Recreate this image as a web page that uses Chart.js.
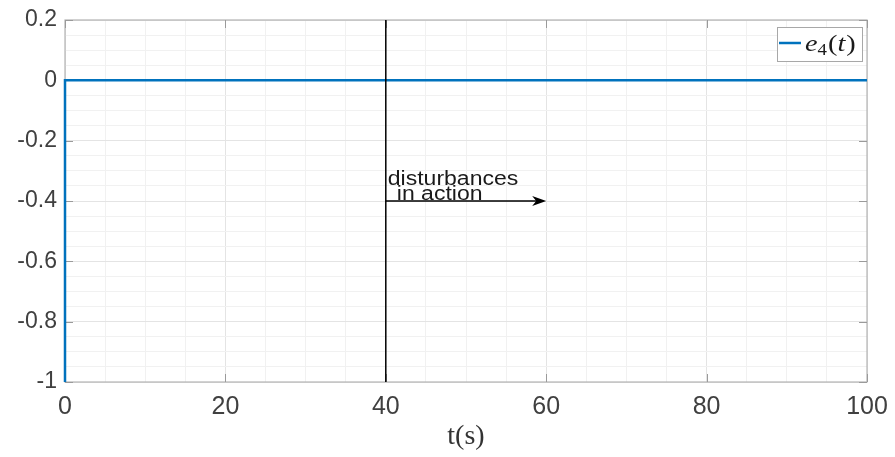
<!DOCTYPE html>
<html>
<head>
<meta charset="utf-8">
<script src="https://cdn.jsdelivr.net/npm/chart.js@4/dist/chart.umd.min.js"></script>
<style>
  html, body { margin: 0; padding: 0; background: #fff; }
  #wrap { width: 895px; height: 457px; }
</style>
</head>
<body>
<div id="wrap"><canvas id="c" width="895" height="457"></canvas></div>
<script>
// Tracking error e4(t): starts at -1 and settles to 0 immediately
const tValues = [0, 0, 100];
const e4Values = [-1, 0, 0];

// Labelled ticks
const xTickLabels = [0, 20, 40, 60, 80, 100];
const yTickLabels = [0.2, 0, -0.2, -0.4, -0.6, -0.8, -1];

// Disturbance marker
const disturbanceTime = 40;
const arrowEndTime = 60;
const arrowLevel = -0.4;
const noteLines = ['disturbances', 'in action'];

const points = tValues.map((t, i) => ({ x: t, y: e4Values[i] }));

const isLabelled = (v, list) => list.some(l => Math.abs(l - v) < 1e-6);
const fmtY = v => {
  const r = Math.round(v * 10) / 10;
  return r === 0 ? '0' : String(r);
};

const tickColor = '#404040';
const boxColor = '#b4b4b4';
const sans = '"Liberation Sans", Arial, sans-serif';
const serif = '"Liberation Serif", "DejaVu Serif", serif';

// text drawn slightly widened horizontally
function wideText(ctx, text, x, y, sx) {
  ctx.save();
  ctx.translate(x, y);
  ctx.scale(sx, 1);
  ctx.fillText(text, 0, 0);
  const w = ctx.measureText(text).width * sx;
  ctx.restore();
  return w;
}

const overlay = {
  id: 'overlay',
  beforeDatasetsDraw(chart) {
    const { ctx, chartArea: a, scales: { x, y } } = chart;
    ctx.save();
    ctx.strokeStyle = boxColor;
    ctx.lineWidth = 1.2;
    ctx.strokeRect(a.left, a.top, a.right - a.left, a.bottom - a.top);
    // inner tick marks
    ctx.strokeStyle = '#9a9a9a';
    ctx.lineWidth = 1;
    const len = 8;
    ctx.beginPath();
    xTickLabels.forEach(v => {
      const px = Math.round(x.getPixelForValue(v)) + 0.5;
      ctx.moveTo(px, a.bottom); ctx.lineTo(px, a.bottom - len);
      ctx.moveTo(px, a.top); ctx.lineTo(px, a.top + len);
    });
    yTickLabels.forEach(v => {
      const py = Math.round(y.getPixelForValue(v)) + 0.5;
      ctx.moveTo(a.left, py); ctx.lineTo(a.left + len, py);
      ctx.moveTo(a.right, py); ctx.lineTo(a.right - len, py);
    });
    ctx.stroke();
    ctx.restore();
  },
  afterDatasetsDraw(chart) {
    const { ctx, chartArea: a, scales: { x, y } } = chart;
    ctx.save();
    // vertical line at disturbance onset
    const xd = x.getPixelForValue(disturbanceTime);
    ctx.strokeStyle = '#000';
    ctx.lineWidth = 1.5;
    ctx.beginPath();
    ctx.moveTo(xd, a.top);
    ctx.lineTo(xd, a.bottom);
    ctx.stroke();
    // arrow
    const ya = y.getPixelForValue(arrowLevel);
    const xe = x.getPixelForValue(arrowEndTime);
    ctx.lineWidth = 1.3;
    ctx.beginPath();
    ctx.moveTo(xd, ya);
    ctx.lineTo(xe - 8, ya);
    ctx.stroke();
    ctx.fillStyle = '#000';
    ctx.beginPath();
    ctx.moveTo(xe, ya);
    ctx.lineTo(xe - 14, ya - 5);
    ctx.lineTo(xe - 10, ya);
    ctx.lineTo(xe - 14, ya + 5);
    ctx.closePath();
    ctx.fill();
    // note text
    ctx.fillStyle = '#1a1a1a';
    ctx.font = '20px ' + sans;
    ctx.textBaseline = 'alphabetic';
    ctx.textAlign = 'left';
    wideText(ctx, noteLines[0], xd + 2, ya - 16, 1.15);
    wideText(ctx, noteLines[1], xd + 11, ya - 1, 1.15);
    // legend
    const lx = 777, ly = 27, lw = 85, lh = 34;
    ctx.fillStyle = '#fff';
    ctx.fillRect(lx, ly, lw, lh);
    ctx.strokeStyle = '#a8a8a8';
    ctx.lineWidth = 1;
    ctx.strokeRect(lx + 0.5, ly + 0.5, lw, lh);
    ctx.strokeStyle = '#0072BD';
    ctx.lineWidth = 2.5;
    ctx.beginPath();
    ctx.moveTo(lx + 2, ly + 16);
    ctx.lineTo(lx + 24, ly + 16);
    ctx.stroke();
    ctx.fillStyle = '#1a1a1a';
    const sx = 1.18;
    let tx = lx + 28;
    const base = ly + 24;
    ctx.font = 'italic 24px ' + serif;
    tx += wideText(ctx, 'e', tx, base, sx);
    ctx.font = '16px ' + serif;
    tx += wideText(ctx, '4', tx, base + 4, sx) + 1;
    ctx.font = '24px ' + serif;
    tx += wideText(ctx, '(', tx, base, sx);
    ctx.font = 'italic 24px ' + serif;
    tx += wideText(ctx, 't', tx, base, sx) + 1;
    ctx.font = '24px ' + serif;
    wideText(ctx, ')', tx, base, sx);
    ctx.restore();
  }
};

new Chart(document.getElementById('c'), {
  type: 'line',
  data: {
    datasets: [{
      label: 'e4(t)',
      data: points,
      borderColor: '#0072BD',
      borderWidth: 2.5,
      pointRadius: 0,
      tension: 0,
      fill: false,
      clip: false
    }]
  },
  options: {
    responsive: false,
    animation: false,
    devicePixelRatio: 1,
    layout: { padding: { top: 20, right: 28, left: 0, bottom: 0 } },
    plugins: { legend: { display: false }, tooltip: { enabled: false } },
    scales: {
      x: {
        type: 'linear',
        min: 0, max: 100,
        afterFit: s => { s.height = 75; s.paddingLeft = 0; s.paddingRight = 0; },
        ticks: {
          stepSize: 5,
          autoSkip: false,
          maxRotation: 0,
          padding: 10,
          color: tickColor,
          font: { family: sans, size: 25 },
          callback: v => isLabelled(v, xTickLabels) ? String(v) : ''
        },
        grid: {
          drawTicks: false,
          color: c => isLabelled(c.tick.value, xTickLabels) ? '#e4e4e4' : '#f1f1f1',
          lineWidth: 1
        },
        border: { display: false },
        title: {
          display: true,
          text: 't(s)',
          color: '#333',
          font: { family: serif, size: 28 },
          padding: { top: 0, bottom: 4 }
        }
      },
      y: {
        type: 'linear',
        min: -1, max: 0.2,
        afterFit: s => { s.width = 65; s.paddingTop = 0; s.paddingBottom = 0; },
        ticks: {
          stepSize: 0.05,
          autoSkip: false,
          padding: 8,
          color: tickColor,
          font: { family: sans, size: 23 },
          callback: v => isLabelled(v, yTickLabels) ? fmtY(v) : ''
        },
        grid: {
          drawTicks: false,
          color: c => isLabelled(c.tick.value, yTickLabels) ? '#e4e4e4' : '#f1f1f1',
          lineWidth: 1
        },
        border: { display: false }
      }
    }
  },
  plugins: [overlay]
});
</script>
</body>
</html>
